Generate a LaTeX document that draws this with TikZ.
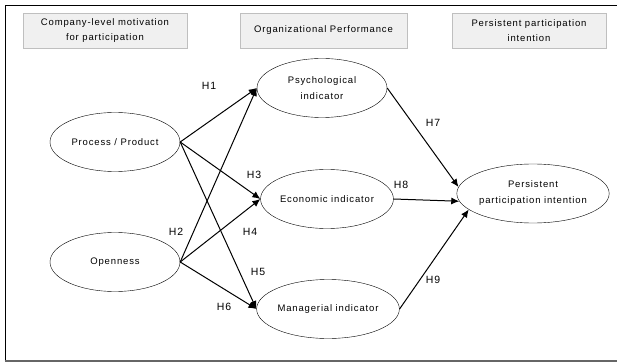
\documentclass[tikz,border=0pt]{standalone}
\usepackage{fontspec}
\setmainfont{Liberation Sans}[LetterSpace=9]
\usetikzlibrary{shapes.geometric,arrows.meta,positioning}

\tikzset{
  head/.style={draw=black!25,fill=black!6,minimum height=35pt,inner sep=0pt,align=center,font=\fontsize{9.5}{15}\selectfont},
  var/.style={draw,ellipse,minimum width=130pt,minimum height=59pt,inner sep=0pt,align=center,font=\fontsize{9.5}{16}\selectfont},
  hyp/.style={inner sep=0pt,font=\fontsize{10.5}{12}\selectfont},
  link/.style={->,line width=1pt}
}

\begin{document}
\begin{tikzpicture}[x=1pt,y=-1pt,>={Latex[length=8pt,width=7pt]}]
  \useasboundingbox (0,0) rectangle (617,363);
  \draw[line width=0.8pt] (617,5)--(5,5)--(5,361);
  \draw[black!60,line width=1.6pt] (4.5,361)--(617,361);
  \node[head,minimum width=164pt] (motiv) at (105,30.5) {Company-level motivation\\for participation};
  \node[head,minimum width=167pt] (perf) at (323.5,30.5) {Organizational Performance};
  \node[head,minimum width=154pt] (cont) at (529,30.5) {Persistent participation\\intention};
  \node[var] (proc) at (115,142) {Process / Product};
  \node[var] (open) at (115,262) {Openness};
  \node[var] (psy) at (322,88) {Psychological\\indicator};
  \node[var] (eco) at (327,199) {Economic indicator};
  \node[var] (man) at (328,309) {Managerial indicator};
  \node[var,minimum width=132pt] (pers) at (533,193.5) {Persistent\\participation intention};
  \foreach \s in {proc,open}
    \foreach \t in {psy,eco,man}
      \draw[link] (\s.east)--(\t.west);
  \draw[link] (psy.east)--(pers.175);
  \draw[link] (eco.east)--(pers.186);
  \draw[link] (man.east)--(pers.194);
  \node[hyp] (h1) at (209,86) {H1};
  \node[hyp] (h2) at (176,232) {H2};
  \node[hyp] (h3) at (254,175) {H3};
  \node[hyp] (h4) at (250,232) {H4};
  \node[hyp] (h5) at (258,272) {H5};
  \node[hyp] (h6) at (224,307) {H6};
  \node[hyp] (h7) at (433,123) {H7};
  \node[hyp] (h8) at (401,185) {H8};
  \node[hyp] (h9) at (433,280) {H9};
\end{tikzpicture}
\end{document}
